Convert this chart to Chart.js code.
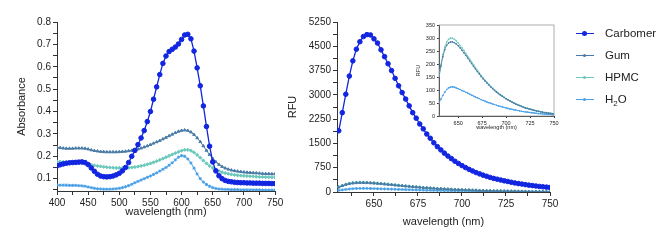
<!DOCTYPE html>
<html>
<head>
<meta charset="utf-8">
<script src="https://cdn.jsdelivr.net/npm/chart.js@4.4.1/dist/chart.umd.min.js"></script>
<style>
  body { margin: 0; background: #fff; width: 669px; height: 242px; overflow: hidden; position: relative;
         font-family: "Liberation Sans", Arial, sans-serif; }
  canvas { position: absolute; }
  #absChart { left: 0; top: 0; }
  #rfuChart { left: 275px; top: 0; }
  #insetChart { left: 405px; top: 15px; }
  .row { position: absolute; left: 576px; height: 14px; width: 93px; font-size: 11.5px; color: #222; }
  .row .ln { position: absolute; left: 0; top: 7px; width: 18px; height: 1px; }
  .row .mk { position: absolute; left: 7px; top: 6px; width: 3px; height: 3px; border-radius: 50%; }
  .row .lbl { position: absolute; left: 29px; top: 0; line-height: 14px; white-space: nowrap; }
  .row sub { font-size: 8px; }
</style>
</head>
<body>
<canvas id="absChart" width="290" height="242"></canvas>
<canvas id="rfuChart" width="305" height="242"></canvas>
<canvas id="insetChart" width="160" height="120"></canvas>
<div id="legend"></div>
<script>
// ---- data: absorbance (left) ----
const absWl = [400,405,410,415,420,425,430,435,440,445,450,455,460,465,470,475,480,485,490,495,
  500,505,510,515,520,525,530,535,540,545,550,555,560,565,570,575,580,585,590,595,
  600,605,610,615,620,625,630,635,640,645,650,655,660,665,670,675,680,685,690,695,
  700,705,710,715,720,725,730,735,740,745,750];
const absCarbomer = [0.157,0.162,0.166,0.169,0.171,0.172,0.173,0.174,0.175,0.172,0.163,0.148,0.133,0.120,0.112,0.109,0.108,0.109,0.112,0.117,
  0.124,0.135,0.150,0.172,0.200,0.226,0.252,0.282,0.315,0.355,0.400,0.455,0.510,0.565,0.615,0.648,0.668,0.678,0.688,0.702,
  0.722,0.742,0.745,0.725,0.670,0.595,0.515,0.425,0.333,0.245,0.175,0.135,0.113,0.100,0.092,0.088,0.086,0.084,0.083,0.082,
  0.082,0.081,0.081,0.080,0.080,0.080,0.079,0.079,0.079,0.078,0.078];
const absGum = [0.240,0.238,0.236,0.235,0.235,0.235,0.236,0.236,0.236,0.235,0.232,0.228,0.225,0.223,0.221,0.220,0.219,0.219,0.219,0.219,
  0.220,0.221,0.222,0.224,0.226,0.229,0.232,0.236,0.241,0.246,0.252,0.258,0.264,0.270,0.277,0.284,0.291,0.298,0.305,0.311,
  0.315,0.317,0.315,0.308,0.297,0.282,0.265,0.246,0.226,0.207,0.190,0.175,0.163,0.154,0.147,0.142,0.138,0.135,0.133,0.131,
  0.129,0.128,0.127,0.126,0.125,0.124,0.123,0.122,0.122,0.121,0.121];
const absHPMC = [0.177,0.176,0.175,0.174,0.173,0.172,0.171,0.170,0.169,0.167,0.165,0.162,0.159,0.157,0.155,0.153,0.151,0.150,0.149,0.148,
  0.148,0.148,0.148,0.149,0.150,0.152,0.154,0.157,0.160,0.164,0.168,0.173,0.178,0.184,0.190,0.196,0.202,0.208,0.214,0.220,
  0.225,0.229,0.229,0.225,0.217,0.206,0.194,0.181,0.168,0.157,0.148,0.140,0.134,0.129,0.125,0.122,0.119,0.117,0.115,0.114,
  0.113,0.112,0.111,0.110,0.109,0.108,0.108,0.107,0.107,0.106,0.106];
const absH2O = [0.071,0.071,0.071,0.071,0.070,0.070,0.070,0.069,0.068,0.066,0.063,0.060,0.057,0.055,0.054,0.053,0.053,0.053,0.054,0.055,
  0.057,0.060,0.064,0.069,0.075,0.082,0.088,0.094,0.100,0.106,0.112,0.119,0.126,0.134,0.142,0.150,0.160,0.171,0.184,0.196,
  0.203,0.200,0.188,0.170,0.147,0.121,0.100,0.085,0.074,0.066,0.060,0.056,0.054,0.053,0.052,0.052,0.051,0.051,0.051,0.050,
  0.050,0.050,0.050,0.050,0.050,0.050,0.049,0.049,0.049,0.049,0.049];

// ---- data: fluorescence (right + inset) ----
const emWl = [630,632,634,636,638,640,642,644,646,648,650,652,654,656,658,660,662,664,666,668,
  670,672,674,676,678,680,682,684,686,688,690,692,694,696,698,700,702,704,706,708,
  710,712,714,716,718,720,722,724,726,728,730,732,734,736,738,740,742,744,746,748,750];
const emCarbomer = [1890,2450,3020,3580,4050,4410,4640,4800,4860,4850,4730,4600,4390,4180,3960,3750,3510,3280,3070,2870,
  2660,2450,2280,2100,1950,1790,1660,1520,1400,1300,1200,1110,1030,950,880,815,755,700,650,600,
  560,520,485,450,420,395,370,345,325,300,280,260,245,228,212,198,185,172,160,150,140];
const emGum = [150,192,228,255,272,281,285,285,282,277,270,262,253,243,233,223,212,202,191,181,
  171,162,152,143,135,127,119,112,105,98,92,86,81,76,71,66,62,58,54,50,
  46,43,40,37,34,31,29,27,25,23,21,19,18,16,15,13,12,11,10,9,8];
const emHPMC = [155,198,236,265,284,295,300,299,295,289,281,272,262,252,241,230,219,208,197,186,
  176,166,156,147,138,130,122,114,107,100,94,88,82,77,72,67,63,59,55,51,
  47,44,41,38,35,32,30,28,26,24,22,20,18,17,15,14,13,12,11,10,9];
const emH2O = [50,65,79,92,102,108,111,112,111,108,105,102,98,95,91,88,84,80,77,73,
  70,67,63,60,57,54,51,49,46,44,41,39,37,35,33,31,29,27,26,24,
  23,21,20,18,17,16,15,14,13,12,11,10,9,9,8,7,7,6,6,5,5];

// ---- tick labels ----
const absYTicks = [0.1,0.2,0.3,0.4,0.5,0.6,0.7,0.8];
const absYMinor = [0.05,0.15,0.25,0.35,0.45,0.55,0.65,0.75];
const absXTicks = [400,450,500,550,600,650,700,750];
const absXMinor = [425,475,525,575,625,675,725];
const rfuYTicks = [0,750,1500,2250,3000,3750,4500,5250];
const rfuYMinor = [375,1125,1875,2625,3375,4125,4875];
const rfuXTicks = [650,675,700,725,750];
const rfuXMinor = [637.5,662.5,687.5,712.5,737.5];
const insetYTicks = [0,50,100,150,200,250,300,350];
const insetXTicks = [650,675,700,725,750];

const names = ['Carbomer','Gum','HPMC','H\u2082O'];
const colors = ['#1225e0','#4a7ba6','#6cc9bc','#4aa0e6'];
const markers = ['circle','triangle','rectRot','star'];

const FONT = '"Liberation Sans", Arial, sans-serif';
const INK = '#222';

function pts(xs, ys) { return xs.map((x, i) => ({ x: x, y: ys[i] })); }

function sets(xs, series, big, small, lw) {
  return series.map((ys, i) => ({
    label: names[i],
    data: pts(xs, ys),
    borderColor: colors[i],
    backgroundColor: colors[i],
    borderWidth: i === 0 ? lw + 0.3 : lw,
    pointStyle: markers[i],
    pointRadius: i === 0 ? big : small,
    pointBorderWidth: 1,
    tension: 0
  }));
}

function axis(major, minor, min, max, fmt, size, tickLen, titleText, titleSize, titlePad, fit) {
  const all = major.concat(minor).sort((a, b) => a - b);
  return {
    type: 'linear', min: min, max: max,
    afterBuildTicks: s => { s.ticks = all.map(v => ({ value: v })); },
    afterFit: fit,
    grid: { display: true, drawOnChartArea: false, drawTicks: true, tickLength: tickLen, tickColor: '#333' },
    border: { display: true, color: '#333', width: 1 },
    ticks: {
      autoSkip: false, maxRotation: 0, padding: 2, color: INK,
      font: { family: FONT, size: size },
      callback: v => major.some(m => Math.abs(m - v) < 1e-9) ? fmt(v) : ''
    },
    title: { display: true, text: titleText, color: INK, font: { family: FONT, size: titleSize }, padding: titlePad }
  };
}

const baseOpts = {
  responsive: false, animation: false,
  plugins: { legend: { display: false }, tooltip: { enabled: false } }
};

// left: absorbance
new Chart(document.getElementById('absChart'), {
  type: 'line',
  data: { datasets: sets(absWl, [absCarbomer, absGum, absHPMC, absH2O], 2.3, 1.6, 1) },
  options: Object.assign({}, baseOpts, {
    layout: { padding: { top: 22, right: 15, left: 0, bottom: 0 } },
    scales: {
      x: axis(absXTicks, absXMinor, 400, 750, v => String(v), 10, 4, 'wavelength (nm)', 11,
        { top: 4, bottom: 23.4 }, s => { s.height = 51; }),
      y: axis(absYTicks, absYMinor, 0.045, 0.8, v => String(v), 10, 4, 'Absorbance', 11,
        { top: 15.4, bottom: 4 }, s => { s.width = 57; })
    }
  })
});

// right: fluorescence
new Chart(document.getElementById('rfuChart'), {
  type: 'line',
  data: { datasets: sets(emWl, [emCarbomer, emGum, emHPMC, emH2O], 2.3, 1.5, 1) },
  options: Object.assign({}, baseOpts, {
    layout: { padding: { top: 22, right: 30, left: 0, bottom: 0 } },
    scales: {
      x: axis(rfuXTicks, rfuXMinor, 629, 750, v => String(v), 10, 4, 'wavelength (nm)', 11,
        { top: 4, bottom: 13.4 }, s => { s.height = 50; }),
      y: axis(rfuYTicks, rfuYMinor, 0, 5250, v => String(v), 10, 4, 'RFU', 11,
        { top: 11.4, bottom: 4 }, s => { s.width = 62; })
    }
  })
});

// inset: Gum, HPMC, H2O only
const boxPlugin = {
  id: 'box',
  afterDraw(chart) {
    const a = chart.chartArea, ctx = chart.ctx;
    ctx.save();
    ctx.strokeStyle = '#999';
    ctx.lineWidth = 0.8;
    ctx.strokeRect(a.left, a.top, a.right - a.left, a.bottom - a.top);
    ctx.restore();
  }
};
const insetSets = sets(emWl, [emCarbomer, emGum, emHPMC, emH2O], 0.6, 0.6, 0.8).slice(1);
new Chart(document.getElementById('insetChart'), {
  type: 'line',
  data: { datasets: insetSets },
  options: Object.assign({}, baseOpts, {
    layout: { padding: { top: 10, right: 11, left: 0, bottom: 0 } },
    scales: {
      x: axis(insetXTicks, [], 630, 750, v => String(v), 5.5, 2, 'wavelength (nm)', 5.5,
        { top: 1, bottom: 4 }, s => { s.height = 19; }),
      y: axis(insetYTicks, [], 0, 350, v => String(v), 5.5, 2, 'RFU', 5.5,
        { top: 10, bottom: 1 }, s => { s.width = 34; })
    }
  }),
  plugins: [boxPlugin]
});

// legend
const legend = document.getElementById('legend');
const rowY = [26, 48, 70, 92];
names.forEach((n, i) => {
  const row = document.createElement('div');
  row.className = 'row';
  row.style.top = rowY[i] + 'px';
  const label = i === 3 ? 'H<sub>2</sub>O' : n;
  const mk = i === 0 ? 'left:6px;top:5px;width:5px;height:5px;' : '';
  row.innerHTML = '<div class="ln" style="background:' + colors[i] + '"></div>' +
    '<div class="mk" style="background:' + colors[i] + ';' + mk + '"></div>' +
    '<span class="lbl">' + label + '</span>';
  legend.appendChild(row);
});
</script>
</body>
</html>
